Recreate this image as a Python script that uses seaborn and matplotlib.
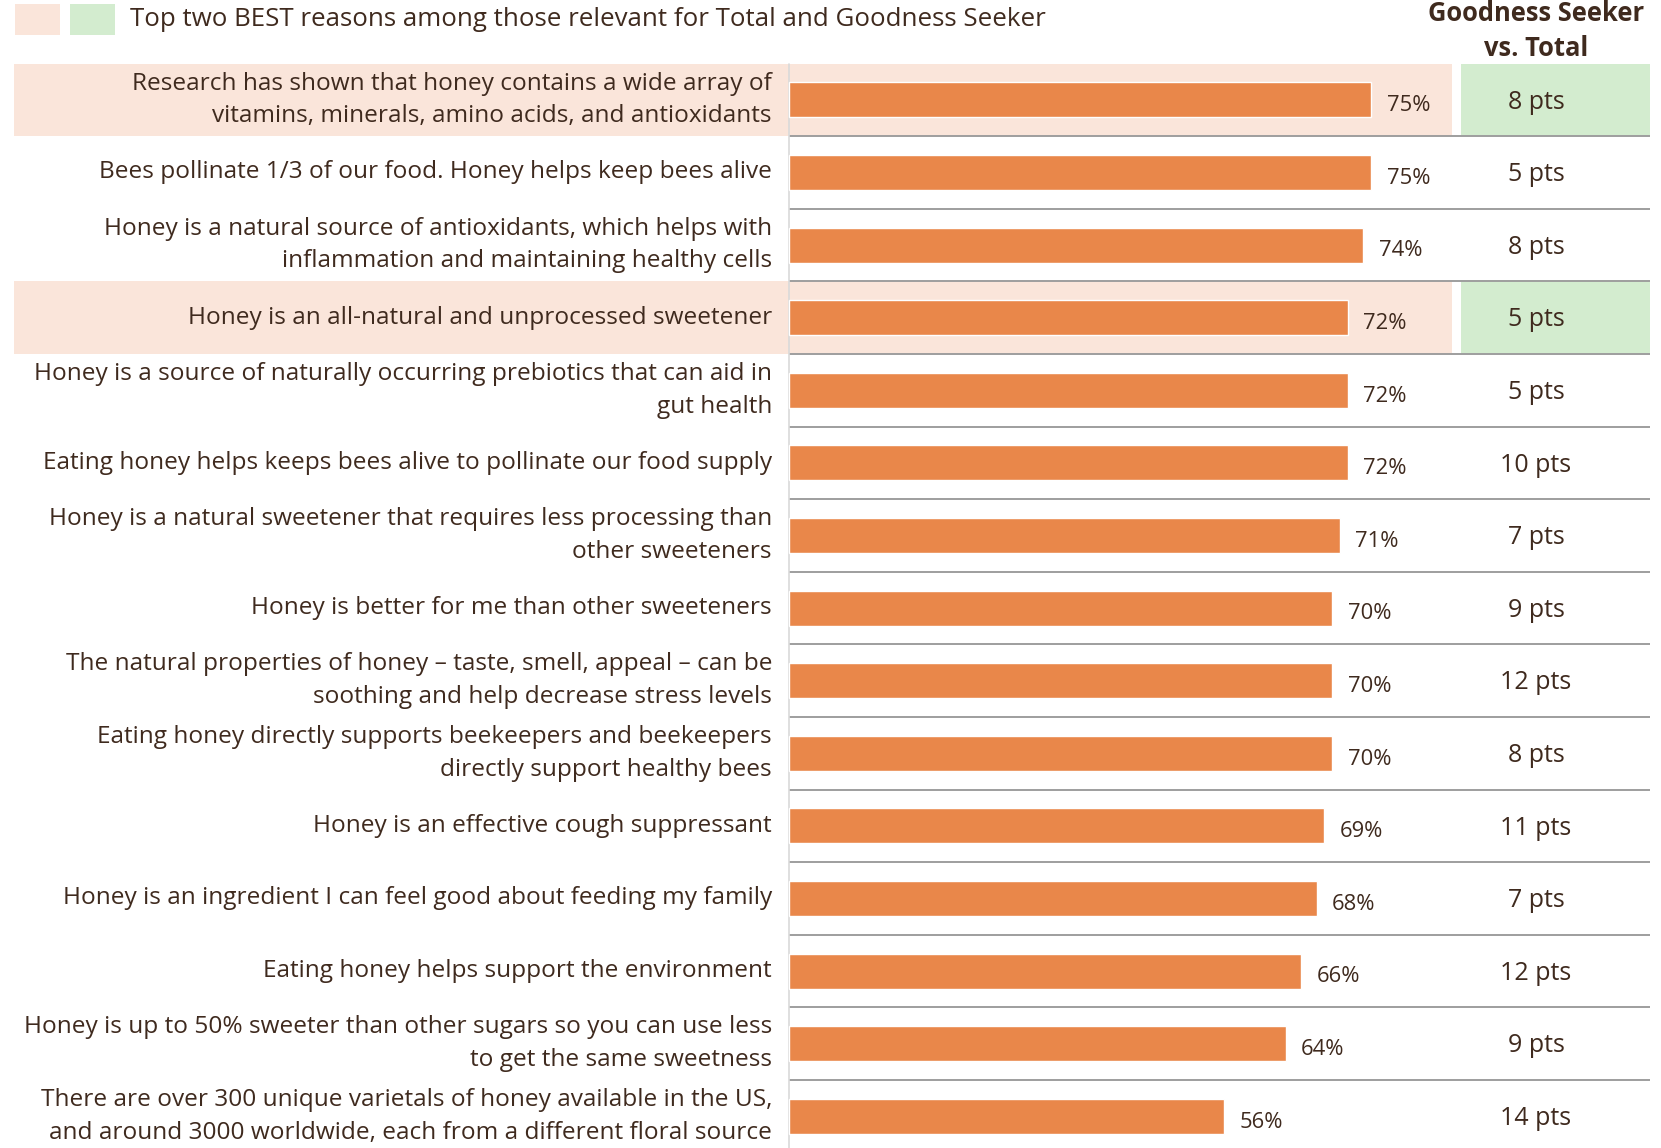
import matplotlib
matplotlib.use("Agg")
import matplotlib.pyplot as plt
from matplotlib.patches import Rectangle
import seaborn as sns
import pandas as pd

reasons = [
    "Research has shown that honey contains a wide array of\nvitamins, minerals, amino acids, and antioxidants",
    "Bees pollinate 1/3 of our food. Honey helps keep bees alive",
    "Honey is a natural source of antioxidants, which helps with\ninflammation and maintaining healthy cells",
    "Honey is an all-natural and unprocessed sweetener",
    "Honey is a source of naturally occurring prebiotics that can aid in\ngut health",
    "Eating honey helps keeps bees alive to pollinate our food supply",
    "Honey is a natural sweetener that requires less processing than\nother sweeteners",
    "Honey is better for me than other sweeteners",
    "The natural properties of honey \u2013 taste, smell, appeal \u2013 can be\nsoothing and help decrease stress levels",
    "Eating honey directly supports beekeepers and beekeepers\ndirectly support healthy bees",
    "Honey is an effective cough suppressant",
    "Honey is an ingredient I can feel good about feeding my family",
    "Eating honey helps support the environment",
    "Honey is up to 50% sweeter than other sugars so you can use less\nto get the same sweetness",
    "There are over 300 unique varietals of honey available in the US,\nand around 3000 worldwide, each from a different floral source",
]
total_pct = [75, 75, 74, 72, 72, 72, 71, 70, 70, 70, 69, 68, 66, 64, 56]
diff_pts = [8, 5, 8, 5, 5, 10, 7, 9, 12, 8, 11, 7, 12, 9, 14]
highlighted = [0, 3]
legend_text = "Top two BEST reasons among those relevant for Total and Goodness Seeker"
header_text = "Goodness Seeker\nvs. Total"

BAR = "#E9874A"
PINK = "#FAE5DA"
GREEN = "#D3ECCF"
TXT = "#3F2A1E"
SEP = "#9E9E9E"

sns.set_style("white")
plt.rcParams['font.family'] = ['Open Sans', 'DejaVu Sans']

W, H = 1661, 1148
fig = plt.figure(figsize=(W / 100, H / 100), dpi=100)
ax = fig.add_axes([0, 0, 1, 1])

df = pd.DataFrame({"reason": reasons, "pct": total_pct})
sns.barplot(data=df, x="pct", y="reason", orient="h", color=BAR,
            width=0.48, saturation=1, ax=ax, zorder=3)

px_per = 7.76
x0px = 789
ax.set_xlim(-x0px / px_per, (W - x0px) / px_per)
ax.set_ylim(14.437, -1.376)
ax.axis("off")

tr = ax.get_yaxis_transform()
fx = lambda p: p / W

for i in highlighted:
    ax.add_patch(Rectangle((fx(14), i - 0.5), fx(1452) - fx(14), 1.0,
                           transform=tr, color=PINK, zorder=0, lw=0))
    ax.add_patch(Rectangle((fx(1461), i - 0.5), fx(1650) - fx(1461), 1.0,
                           transform=tr, color=GREEN, zorder=0, lw=0))

for i in range(len(reasons) - 1):
    ax.plot([fx(789), fx(1650)], [i + 0.5, i + 0.5], transform=tr,
            color=SEP, lw=1.4, zorder=2, solid_capstyle="butt")
ax.plot([fx(789), fx(789)], [-0.5, 14.6], transform=tr, color="#D9D9D9",
        lw=1.2, zorder=2)

for i, (lab, v, d) in enumerate(zip(reasons, total_pct, diff_pts)):
    ax.text(fx(772), i, lab, transform=tr, ha="right", va="center",
            fontsize=17.6, color=TXT, linespacing=1.47, zorder=4)
    ax.text(v + 2.0, i + 0.08, f"{v}%", ha="left", va="center",
            fontsize=15.8, color=TXT, zorder=4)
    ax.text(fx(1536), i + 0.03, f"{d} pts", transform=tr, ha="center",
            va="center", fontsize=18, color=TXT, zorder=4)

fig.text(fx(1536), 1 - 31 / H, header_text, ha="center", va="center",
         fontsize=18.4, fontweight="bold", color=TXT, linespacing=1.38)

fig.patches.append(Rectangle((15 / W, 1 - 35 / H), 45 / W, 31 / H,
                             transform=fig.transFigure, color=PINK, lw=0))
fig.patches.append(Rectangle((70 / W, 1 - 35 / H), 45 / W, 31 / H,
                             transform=fig.transFigure, color=GREEN, lw=0))
fig.text(130 / W, 1 - 19 / H, legend_text, ha="left", va="center",
         fontsize=18.6, color=TXT)

fig.savefig("out.png", dpi=100)
